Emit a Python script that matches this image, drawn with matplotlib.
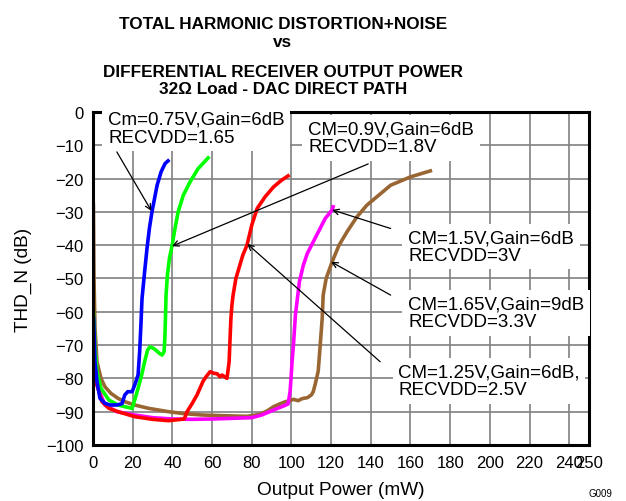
import matplotlib
matplotlib.use('Agg')
import matplotlib.pyplot as plt

plt.rcParams['font.family'] = ['Liberation Sans', 'DejaVu Sans']

# curves: output power (mW) vs THD+N (dB)
blue_x = [0.3, 1, 2, 3.5, 6, 8.6, 12, 14.6, 16, 17.5, 19.7, 21, 22.7, 23.5, 24.2, 24.7,
          26, 27.2, 28.4, 29.7, 31, 32.3, 34.3, 36.3, 37.8]
blue_y = [-62, -75, -81, -86, -87.5, -88, -88, -87.6, -85, -84, -84, -82, -79, -72, -63, -56,
          -48, -41, -35, -30, -26, -22, -18, -15.5, -14.7]

green_x = [0.3, 1, 2, 4, 8, 12.6, 16, 19.7, 21, 22.7, 24.5, 26, 27.5, 28.7, 30.5, 32, 33.5,
           34.8, 35.8, 36.2, 36.5, 36.8, 37.5, 38.5, 39.8, 41.3, 42.9, 45.5, 48.9, 53, 58]
green_y = [-60, -71, -78, -83, -86.5, -88, -88.5, -89, -86.5, -83, -79, -75, -71.5, -70.5, -71,
           -71.7, -72.5, -73, -72, -68, -62, -55, -49, -44, -40.3, -35, -30, -25, -21, -17, -13.8]

red_x = [0.3, 1, 2, 4.5, 8, 12.6, 21, 30, 38, 46, 47.4, 50, 52.4, 55.5, 57, 59, 61, 62.5, 64,
         65, 67.5, 68.6, 69, 69.5, 70, 70.6, 72, 74, 75.5, 77.6, 80, 82.7, 86.7, 91, 95, 98.3]
red_y = [-60, -78, -82, -87, -89, -90, -91.5, -92.3, -92.7, -92.2, -90, -87.5, -85, -80.8,
         -79.5, -78, -78.5, -78.6, -79.5, -79, -80, -75, -69, -62, -58, -55, -50, -46, -43, -40,
         -34, -29, -25.5, -22.5, -20.5, -19.2]

mag_x = [0.3, 1, 2, 6, 12, 21, 30, 40, 50, 60, 70, 80, 85, 89, 93, 96, 98.3, 99.3, 99.8, 100.3,
         101, 102, 104, 106, 108, 111, 114, 117, 120.5, 121]
mag_y = [-60, -77, -82, -88, -90, -91, -91.8, -92.2, -92.3, -92.2, -92, -91.8, -91, -90, -89,
         -88.3, -87.7, -84, -80, -75, -70, -61, -51, -46, -42.5, -39, -35.5, -32, -29.4, -28.5]

brown_x = [0.2, 0.5, 1, 2, 4, 6, 9, 12.6, 16, 21, 28, 38, 46, 55, 65, 77.6, 84, 87.7, 91, 94,
           97, 99.3, 101, 103.4, 105, 106, 108, 110, 111, 112, 113.5, 114.5, 115.5, 116, 117.5,
           120.5, 124, 128, 133, 138, 144, 150, 160, 170]
brown_y = [-28, -50, -65, -75, -80, -82.5, -84.5, -86, -87, -88, -89, -90, -90.6, -91, -91.2,
           -91.4, -90.8, -89.8, -88.5, -87.7, -87, -86.7, -86.3, -86.7, -86.2, -86, -85.8, -85,
           -84, -81.7, -77.8, -70, -62, -55, -50, -45, -40, -36, -31.5, -28, -25, -22, -19.5,
           -17.7]

xticks = [0, 20, 40, 60, 80, 100, 120, 140, 160, 180, 200, 220, 240, 250]
yticks = [0, -10, -20, -30, -40, -50, -60, -70, -80, -90, -100]

# label text, text anchor (top-left), arrow tail, arrow head
labels = ['Cm=0.75V,Gain=6dB\nRECVDD=1.65',
          'CM=0.9V,Gain=6dB\nRECVDD=1.8V',
          'CM=1.5V,Gain=6dB\nRECVDD=3V',
          'CM=1.65V,Gain=9dB\nRECVDD=3.3V',
          'CM=1.25V,Gain=6dB,\nRECVDD=2.5V']
label_pos = [(7.6, 0.3), (108.4, -2.6), (158.8, -35.2), (158.8, -55.2), (153.8, -75.5)]
arrow_from = [(12, -12), (138.7, -15.6), (150, -35), (150, -55), (144.7, -75)]
arrow_to = [(29.4, -29.7), (39.8, -40.3), (120.5, -29.4), (120, -45), (77.7, -39.6)]

fig = plt.figure(figsize=(6.26, 5.02), dpi=100)
ax = fig.add_axes([0.1486, 0.1116, 0.7924, 0.6634])

lw = 2.6
ax.plot(brown_x, brown_y, color='#996633', lw=lw, zorder=2)
ax.plot(mag_x, mag_y, color='#ff00ff', lw=lw, zorder=2)
ax.plot(red_x, red_y, color='#ff0000', lw=lw, zorder=2)
ax.plot(green_x, green_y, color='#00ff00', lw=lw, zorder=2)
ax.plot(blue_x, blue_y, color='#0000ff', lw=lw, zorder=2)

ax.set_xlim(0, 250)
ax.set_ylim(-100, 0)
ax.set_xticks(xticks)
ax.set_yticks(yticks)
ax.tick_params(length=0, labelsize=12, pad=7)
ax.grid(True, color='#808080', lw=1.2)
ax.set_axisbelow(True)
for s in ax.spines.values():
    s.set_linewidth(2.2)
    s.set_color('black')

for txt, p in zip(labels, label_pos):
    ax.text(p[0], p[1], txt, fontsize=13.5, va='top', ha='left', linespacing=1.05,
            bbox=dict(facecolor='white', edgecolor='none', pad=4), zorder=3)
for a, b in zip(arrow_from, arrow_to):
    ax.annotate('', xy=b, xytext=a,
                arrowprops=dict(arrowstyle='->', color='black', lw=0.9,
                                shrinkA=0, shrinkB=0), zorder=4)

ax.set_xlabel('Output Power (mW)', fontsize=13.7, labelpad=8)
ax.set_ylabel('THD_N (dB)', fontsize=13.7, labelpad=10)

tfont = dict(weight='bold', fontsize=12.3, ha='center', va='baseline')
fig.text(0.452, 1 - 29 / 502, 'TOTAL HARMONIC DISTORTION+NOISE', **tfont)
fig.text(0.452, 1 - 47 / 502, 'vs', **tfont)
fig.text(0.452, 1 - 77 / 502, 'DIFFERENTIAL RECEIVER OUTPUT POWER', **tfont)
fig.text(0.452, 1 - 94 / 502, '32\u03a9 Load - DAC DIRECT PATH', **tfont)

fig.text(0.978, 0.006, 'G009', fontsize=7, ha='right', va='bottom')

fig.savefig('out.png', dpi=100)
